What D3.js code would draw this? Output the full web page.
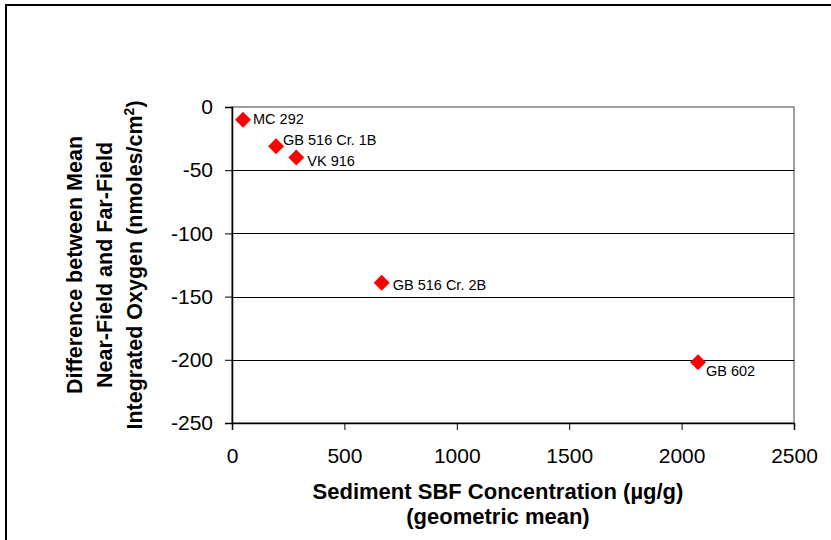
<!DOCTYPE html>
<html><head><meta charset="utf-8">
<script src="https://cdn.jsdelivr.net/npm/d3@7"></script>
<style>body{margin:0;background:#fff}svg{display:block}text{font-family:"Liberation Sans",Arial,sans-serif}</style>
</head><body><svg id="c" width="831" height="540"></svg>
<script>
const sites = ["MC 292","GB 516 Cr. 1B","VK 916","GB 516 Cr. 2B","GB 602"];
const sbfConc = [49, 196, 286, 666, 2073];
const oxygenDiff = [-10, -31, -40, -139, -202];
const xTicks = [0,500,1000,1500,2000,2500];
const yTicks = [0,-50,-100,-150,-200,-250];
const labelOffsets = {"MC 292":[10,-1],"GB 516 Cr. 1B":[7,-6],"VK 916":[11,3],"GB 516 Cr. 2B":[11,2],"GB 602":[8,9]};

const svg = d3.select("#c");
svg.append("rect").attr("x",6).attr("y",5).attr("width",840).attr("height",560)
  .attr("fill","#fff").attr("stroke","#000").attr("stroke-width",2);

const L=232,R=794,T=107,B=423;
const x = d3.scaleLinear().domain([0,2500]).range([L,R]);
const y = d3.scaleLinear().domain([-250,0]).range([B,T]);

svg.append("rect").attr("x",L).attr("y",T).attr("width",R-L).attr("height",B-T)
  .attr("fill","#fff").attr("stroke","#808080").attr("stroke-width",1.5);

svg.append("g").selectAll("line").data(yTicks.filter(d=>d>-250&&d<0)).join("line")
  .attr("x1",L).attr("x2",R).attr("y1",d=>Math.round(y(d))+0.5).attr("y2",d=>Math.round(y(d))+0.5)
  .attr("stroke","#000").attr("stroke-width",1);

const xa = svg.append("g").attr("transform",`translate(0,${B})`)
  .call(d3.axisBottom(x).tickValues(xTicks).tickSize(7).tickPadding(18).tickFormat(d3.format("d")));
const ya = svg.append("g").attr("transform",`translate(${L},0)`)
  .call(d3.axisLeft(y).tickValues(yTicks).tickSize(7).tickPadding(12));
[xa,ya].forEach(a=>{
  a.select(".domain").attr("stroke","#000").attr("stroke-width",1.5);
  a.selectAll(".tick line").attr("stroke","#000");
  a.selectAll(".tick text").attr("fill","#000").style("font-size","21px").style("font-family",'"Liberation Sans",Arial,sans-serif');
});
ya.selectAll(".tick text").text(d=>String(d));

const pts = sites.map((s,i)=>({s, x:sbfConc[i], y:oxygenDiff[i]}));
svg.append("g").selectAll("path").data(pts).join("path")
  .attr("d", d3.symbol(d3.symbolSquare, 128))
  .attr("transform", d=>`translate(${x(d.x)},${y(d.y)}) rotate(45)`)
  .attr("fill","#ff0000");
svg.append("g").selectAll("text").data(pts).join("text")
  .attr("x", d=>x(d.x)+labelOffsets[d.s][0])
  .attr("y", d=>y(d.y)+labelOffsets[d.s][1])
  .attr("dy","0.35em").style("font-size","14.5px").attr("fill","#000").text(d=>d.s);

const xt = svg.append("text").attr("text-anchor","middle").style("font-size","22px").style("font-weight","bold");
xt.append("tspan").attr("x",498).attr("y",499).text("Sediment SBF Concentration (µg/g)");
xt.append("tspan").attr("x",498).attr("y",524).text("(geometric mean)");

const yt = svg.append("g").attr("transform","translate(0,265) rotate(-90)");
const ylines = ["Difference between Mean","Near-Field and Far-Field"];
ylines.forEach((t,i)=>yt.append("text").attr("x",0).attr("y",82+i*30).attr("text-anchor","middle")
  .style("font-size","21.5px").style("font-weight","bold").text(t));
const l3 = yt.append("text").attr("x",0).attr("y",142).attr("text-anchor","middle")
  .style("font-size","21.5px").style("font-weight","bold");
l3.append("tspan").text("Integrated Oxygen (nmoles/cm");
l3.append("tspan").attr("dy","-8").style("font-size","14px").text("2");
l3.append("tspan").attr("dy","8").text(")");
</script></body></html>
